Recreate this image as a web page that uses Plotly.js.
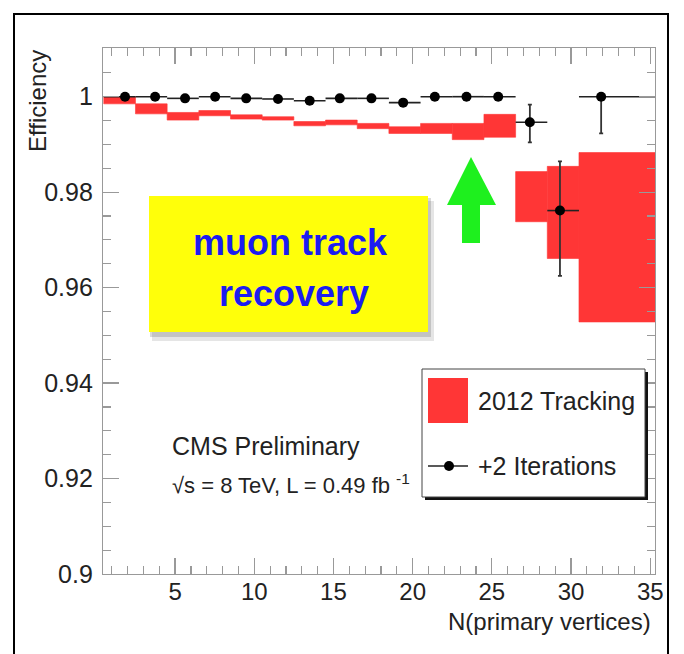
<!DOCTYPE html>
<html>
<head>
<meta charset="utf-8">
<script src="https://cdn.plot.ly/plotly-3.0.1.min.js"></script>
<style>
html,body{margin:0;padding:0;background:#fff;}
#chart{width:684px;height:654px;}
</style>
</head>
<body>
<div id="chart"></div>
<script>
// ---------- data ----------
// bin edges (N primary vertices)
const binEdges = [0.5, 2.5, 4.5, 6.5, 8.5, 10.5, 12.5, 14.5, 16.5, 18.5, 20.5, 22.5, 24.5, 26.5, 28.5, 30.5, 35.5];
// 2012 Tracking efficiency band (upper / lower edge per bin)
const trackHigh = [1.0000, 0.9985, 0.9967, 0.9971, 0.9962, 0.9958, 0.9948, 0.9951, 0.9944, 0.9937, 0.9944, 0.9944, 0.9963, 0.9843, 0.9854, 0.9883];
const trackLow  = [0.9985, 0.9964, 0.9951, 0.9960, 0.9953, 0.9951, 0.9939, 0.9941, 0.9933, 0.9923, 0.9923, 0.9910, 0.9915, 0.9738, 0.9661, 0.9528];
// +2 Iterations points
const iterX   = [1.84, 3.74, 5.63, 7.53, 9.49, 11.5, 13.5, 15.4, 17.4, 19.4, 21.4, 23.4, 25.4, 27.4, 29.3, 31.9];
const iterY   = [1.0000, 1.0000, 0.99965, 1.0000, 0.99965, 0.99952, 0.99916, 0.99965, 0.99965, 0.99875, 1.0000, 1.0000, 1.0000, 0.99463, 0.97614, 1.0000];
const iterErrUp = [0, 0, 0, 0, 0, 0, 0, 0, 0, 0, 0, 0, 0, 0.0037, 0.0103, 0];
const iterErrDn = [0, 0, 0, 0, 0, 0, 0, 0, 0, 0, 0, 0, 0, 0.0042, 0.0137, 0.0077];
// axis tick labels
const xTickVals = [5, 10, 15, 20, 25, 30, 35];
const yTickVals = [0.9, 0.92, 0.94, 0.96, 0.98, 1];
const yTickText = ['0.9', '0.92', '0.94', '0.96', '0.98', '1'];

// ---------- derived ----------
const binCenters = binEdges.slice(0, -1).map((e, i) => (e + binEdges[i + 1]) / 2);
const binWidths = binEdges.slice(0, -1).map((e, i) => binEdges[i + 1] - e);
const bandSize = trackHigh.map((h, i) => h - trackLow[i]);
const errXPlus = iterX.map((x, i) => binEdges[i + 1] - x);
const errXMinus = iterX.map((x, i) => x - binEdges[i]);

// layout geometry (pixels)
const W = 684, H = 654;
const L = 103, R = 655, T = 48, B = 574;
const px = x => (x - L) / (R - L);
const py = y => (B - y) / (B - T);

const FONT = 'Liberation Sans, Arial, Helvetica, sans-serif';
const RED = '#ff3636';

const traces = [
  {
    type: 'bar',
    x: binCenters,
    width: binWidths,
    base: trackLow,
    y: bandSize,
    opacity: 1,
    marker: {color: RED, opacity: 1, line: {width: 0.6, color: RED}},
    showlegend: false,
    hoverinfo: 'skip'
  },
  {
    type: 'scatter',
    mode: 'markers',
    x: iterX,
    y: iterY,
    marker: {color: '#000', size: 10},
    error_x: {type: 'data', symmetric: false, array: errXPlus, arrayminus: errXMinus, color: '#222', thickness: 1.6, width: 0},
    error_y: {type: 'data', symmetric: false, array: iterErrUp, arrayminus: iterErrDn, color: '#333', thickness: 1.8, width: 2},
    showlegend: false
  }
];

const shapes = [];
const annotations = [];

// outer frame
shapes.push({type: 'rect', xref: 'paper', yref: 'paper', x0: px(14), x1: px(668), y0: py(14), y1: py(700), line: {color: '#000', width: 2}, fillcolor: 'rgba(0,0,0,0)', layer: 'above'});

// yellow label box with shadow
shapes.push({type: 'rect', xref: 'paper', yref: 'paper', x0: px(152), x1: px(434), y0: py(201), y1: py(341), line: {width: 0}, fillcolor: 'rgba(0,0,0,0.10)', layer: 'above'});
shapes.push({type: 'rect', xref: 'paper', yref: 'paper', x0: px(150), x1: px(431), y0: py(198), y1: py(337), line: {width: 0}, fillcolor: 'rgba(0,0,0,0.15)', layer: 'above'});
shapes.push({type: 'rect', xref: 'paper', yref: 'paper', x0: px(149), x1: px(428), y0: py(196), y1: py(332), line: {width: 0}, fillcolor: '#ffff0a', layer: 'above'});
annotations.push({xref: 'paper', yref: 'paper', x: px(290), y: py(242), text: '<b>muon track</b>', showarrow: false, xanchor: 'center', yanchor: 'middle', font: {family: FONT, size: 36, color: '#1c1cf0'}});
annotations.push({xref: 'paper', yref: 'paper', x: px(294), y: py(293), text: '<b>recovery</b>', showarrow: false, xanchor: 'center', yanchor: 'middle', font: {family: FONT, size: 36, color: '#1c1cf0'}});

// green arrow
const arrowPts = [[471,157],[496,205],[480,205],[480,243],[462,243],[462,205],[447,205]];
shapes.push({type: 'path', xref: 'paper', yref: 'paper',
  path: 'M ' + arrowPts.map(p => px(p[0]).toFixed(5) + ',' + py(p[1]).toFixed(5)).join(' L ') + ' Z',
  fillcolor: '#1ef01e', line: {width: 0}, layer: 'above'});

// legend box
shapes.push({type: 'rect', xref: 'paper', yref: 'paper', x0: px(425), x1: px(648), y0: py(372), y1: py(500), line: {width: 0}, fillcolor: '#111', layer: 'above'});
shapes.push({type: 'rect', xref: 'paper', yref: 'paper', x0: px(422), x1: px(645), y0: py(369), y1: py(497), line: {color: '#444', width: 1}, fillcolor: '#fff', layer: 'above'});
shapes.push({type: 'rect', xref: 'paper', yref: 'paper', x0: px(428), x1: px(468), y0: py(378), y1: py(423), line: {width: 0}, fillcolor: RED, layer: 'above'});
shapes.push({type: 'line', xref: 'paper', yref: 'paper', x0: px(428), x1: px(468), y0: py(466), y1: py(466), line: {color: '#222', width: 1.6}, layer: 'above'});
shapes.push({type: 'circle', xref: 'paper', yref: 'paper', x0: px(444), x1: px(454), y0: py(461), y1: py(471), line: {width: 0}, fillcolor: '#000', layer: 'above'});
annotations.push({xref: 'paper', yref: 'paper', x: px(476), y: py(401), text: '2012 Tracking', showarrow: false, xanchor: 'left', yanchor: 'middle', font: {family: FONT, size: 25, color: '#222'}});
annotations.push({xref: 'paper', yref: 'paper', x: px(476), y: py(466), text: '+2 Iterations', showarrow: false, xanchor: 'left', yanchor: 'middle', font: {family: FONT, size: 25, color: '#222'}});

// CMS text
annotations.push({xref: 'paper', yref: 'paper', x: px(266), y: py(446), text: 'CMS Preliminary', showarrow: false, xanchor: 'center', yanchor: 'middle', font: {family: FONT, size: 25, color: '#222'}});
annotations.push({xref: 'paper', yref: 'paper', x: px(291), y: py(484), text: '√s = 8 TeV, L = 0.49 fb <sup>-1</sup>', showarrow: false, xanchor: 'center', yanchor: 'middle', font: {family: FONT, size: 22, color: '#222'}});

// axis titles
annotations.push({xref: 'paper', yref: 'paper', x: px(37), y: py(101), text: 'Efficiency', textangle: -90, showarrow: false, xanchor: 'center', yanchor: 'middle', font: {family: FONT, size: 24, color: '#222'}});
annotations.push({xref: 'paper', yref: 'paper', x: px(653), y: py(621), text: 'N(primary vertices)', showarrow: false, xanchor: 'right', yanchor: 'middle', font: {family: FONT, size: 24, color: '#222'}});

const axisCommon = {
  showgrid: false, zeroline: false, showline: true, linecolor: '#999', linewidth: 1.2,
  mirror: 'ticks', ticks: 'inside', tickcolor: '#999', tickwidth: 1.2, ticklen: 16,
  tickfont: {family: FONT, size: 24, color: '#222'}
};

const layout = {
  width: W, height: H,
  margin: {l: L, r: W - R, t: T, b: H - B, pad: 0},
  paper_bgcolor: '#fff', plot_bgcolor: '#fff',
  barmode: 'overlay',
  showlegend: false,
  xaxis: Object.assign({}, axisCommon, {
    range: [0.45, 35.3], tickmode: 'array', tickvals: xTickVals, ticktext: xTickVals.map(String),
    minor: {dtick: 1, tick0: 0, ticks: 'inside', ticklen: 8, tickcolor: '#999', tickwidth: 1.2},
    ticklabelstandoff: -4
  }),
  yaxis: Object.assign({}, axisCommon, {
    range: [0.9, 1.0102], tickmode: 'array', tickvals: yTickVals, ticktext: yTickText,
    tickfont: {family: FONT, size: 25, color: '#222'},
    minor: {dtick: 0.005, tick0: 0.9, ticks: 'inside', ticklen: 8, tickcolor: '#999', tickwidth: 1.2},
    ticklabelstandoff: 4
  }),
  shapes: shapes,
  annotations: annotations
};

Plotly.newPlot('chart', traces, layout, {displayModeBar: false, staticPlot: true});
</script>
</body>
</html>
